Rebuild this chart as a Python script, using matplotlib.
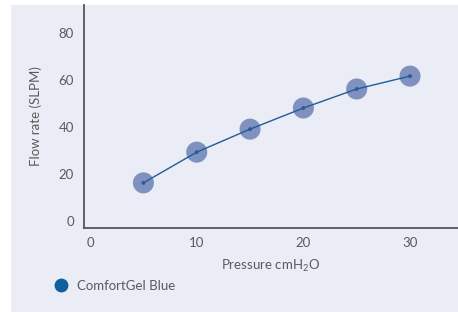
import matplotlib
matplotlib.use("Agg")
import matplotlib.pyplot as plt
from matplotlib.lines import Line2D
from matplotlib.patches import Rectangle

pressure = [5, 10, 15, 20, 25, 30]
flow = [16.2, 29.3, 39.1, 48.1, 56.2, 61.7]
series_name = "ComfortGel Blue"
xticks = [0, 10, 20, 30]
yticks = [0, 20, 40, 60, 80]

plt.rcParams['font.family'] = ['Lato', 'DejaVu Sans']
plt.rcParams['mathtext.fontset'] = 'custom'
plt.rcParams['mathtext.rm'] = 'Lato'

bg = '#eaedf5'
txt = '#5a5a5a'
W, H = 458, 312
fig = plt.figure(figsize=(W/100, H/100), dpi=100)
fig.patch.set_facecolor('white')
fig.patches.append(Rectangle((11/W, 0), 1 - 11/W, 1 - 5/H, transform=fig.transFigure,
                             facecolor=bg, edgecolor='none', zorder=-10))

ax = fig.add_axes([83.7/W, (H-227.7)/H, (W-83.7)/W, (227.7-5)/H])
ax.set_facecolor(bg)
ax.plot(pressure, flow, color='#1f5c99', lw=1.0, zorder=3)
ax.scatter(pressure, flow, s=230, color='#7f91bf', edgecolors='none', zorder=2)
ax.scatter(pressure, flow, s=8, color='#2a5d96', edgecolors='none', zorder=4)

ax.set_xlim(-0.6, 34.5)
ax.set_ylim(-2.9, 92)
ax.set_xticks(xticks)
ax.set_yticks(yticks)
ax.tick_params(length=0, labelcolor=txt, labelsize=9.5, pad=7)
for s in ['top', 'right']:
    ax.spines[s].set_visible(False)
for s in ['left', 'bottom']:
    ax.spines[s].set_color('#555555')
    ax.spines[s].set_linewidth(1.3)

ax.set_xlabel("Pressure cmH$\\mathregular{_2}$O", color=txt, fontsize=9.5, labelpad=6)
ax.set_ylabel("Flow rate (SLPM)", color=txt, fontsize=9.5, labelpad=12)

handle = Line2D([], [], marker='o', ls='none', markersize=10, color='#1060a0', markeredgecolor='none')
fig.legend([handle], [series_name], loc='center left', bbox_to_anchor=(43/W, 1 - 286/H),
           frameon=False, fontsize=9.5, labelcolor=txt, handletextpad=0.2, borderaxespad=0)

fig.savefig('out.png', dpi=100)
